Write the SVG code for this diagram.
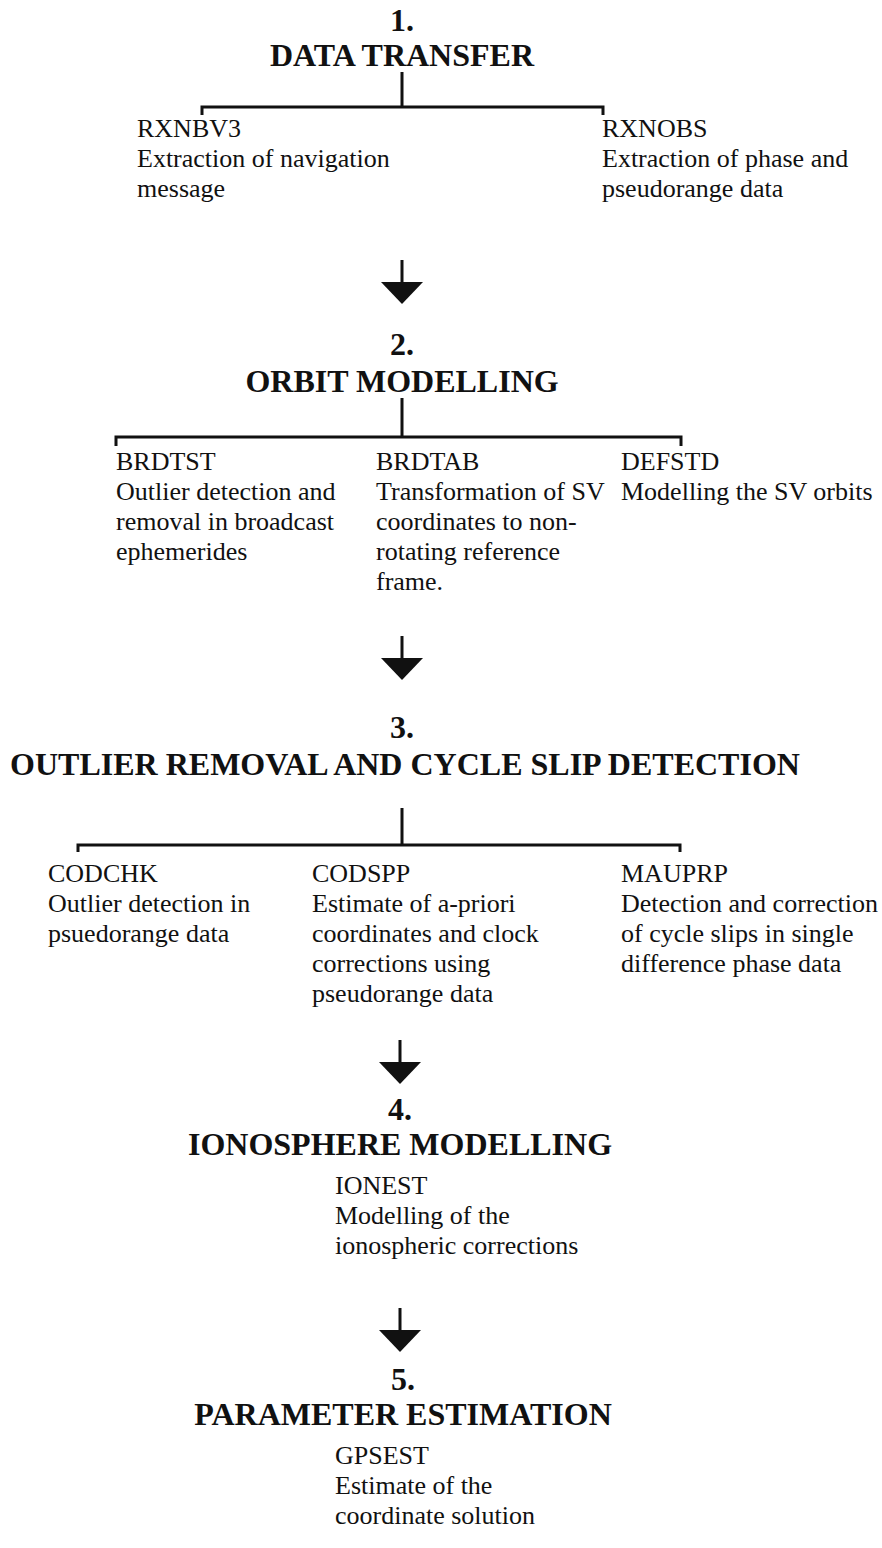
<svg xmlns="http://www.w3.org/2000/svg" xmlns:xlink="http://www.w3.org/1999/xlink" width="882" height="1548" viewBox="0 0 882 1548">
<style>
.t{font-family:"Liberation Serif","Times New Roman",serif;font-weight:bold;font-size:32px;fill:#111;text-anchor:middle}
.b{font-family:"Liberation Serif","Times New Roman",serif;font-size:26px;fill:#111}
.ln{stroke:#111;stroke-width:3;fill:none}
.ar{fill:#111}
</style>
<defs>
<g id="arrow"><line x1="0" y1="0" x2="0" y2="24" class="ln"/><polygon points="-21,22 21,22 0,44" class="ar"/></g>
</defs>
<rect width="882" height="1548" fill="#fff"/>
<g id="connectors">
<path class="ln" d="M402 72V107M202 115V107H603V115"/>
<use xlink:href="#arrow" x="402" y="260"/>
<path class="ln" d="M402 398V437M116 446V437H681V446"/>
<use xlink:href="#arrow" x="402" y="636"/>
<path class="ln" d="M402 808V845M78 852V845H680V852"/>
<use xlink:href="#arrow" x="400" y="1040"/>
<use xlink:href="#arrow" x="400" y="1308"/>
</g>
<g id="step1">
<text class="t" x="402" y="31">1.</text>
<text class="t" x="402" y="66">DATA TRANSFER</text>
</g>
<g id="rxnbv3"><text class="b" x="137" y="137">RXNBV3</text><text class="b" x="137" y="167">Extraction of navigation</text><text class="b" x="137" y="197">message</text></g>
<g id="rxnobs"><text class="b" x="602" y="137">RXNOBS</text><text class="b" x="602" y="167">Extraction of phase and</text><text class="b" x="602" y="197">pseudorange data</text></g>
<g id="step2">
<text class="t" x="402" y="355">2.</text>
<text class="t" x="402" y="392">ORBIT MODELLING</text>
</g>
<g id="brdtst"><text class="b" x="116" y="470">BRDTST</text><text class="b" x="116" y="500">Outlier detection and</text><text class="b" x="116" y="530">removal in broadcast</text><text class="b" x="116" y="560">ephemerides</text></g>
<g id="brdtab"><text class="b" x="376" y="470">BRDTAB</text><text class="b" x="376" y="500">Transformation of SV</text><text class="b" x="376" y="530">coordinates to non-</text><text class="b" x="376" y="560">rotating reference</text><text class="b" x="376" y="590">frame.</text></g>
<g id="defstd"><text class="b" x="621" y="470">DEFSTD</text><text class="b" x="621" y="500">Modelling the SV orbits</text></g>
<g id="step3">
<text class="t" x="402" y="738">3.</text>
<text class="t" x="405" y="775">OUTLIER REMOVAL AND CYCLE SLIP DETECTION</text>
</g>
<g id="codchk"><text class="b" x="48" y="882">CODCHK</text><text class="b" x="48" y="912">Outlier detection in</text><text class="b" x="48" y="942">psuedorange data</text></g>
<g id="codspp"><text class="b" x="312" y="882">CODSPP</text><text class="b" x="312" y="912">Estimate of a-priori</text><text class="b" x="312" y="942">coordinates and clock</text><text class="b" x="312" y="972">corrections using</text><text class="b" x="312" y="1002">pseudorange data</text></g>
<g id="mauprp"><text class="b" x="621" y="882">MAUPRP</text><text class="b" x="621" y="912">Detection and correction</text><text class="b" x="621" y="942">of cycle slips in single</text><text class="b" x="621" y="972">difference phase data</text></g>
<g id="step4">
<text class="t" x="400" y="1120">4.</text>
<text class="t" x="400" y="1155">IONOSPHERE MODELLING</text>
</g>
<g id="ionest"><text class="b" x="335" y="1194">IONEST</text><text class="b" x="335" y="1224">Modelling of the</text><text class="b" x="335" y="1254">ionospheric corrections</text></g>
<g id="step5">
<text class="t" x="403" y="1390">5.</text>
<text class="t" x="403" y="1425">PARAMETER ESTIMATION</text>
</g>
<g id="gpsest"><text class="b" x="335" y="1464">GPSEST</text><text class="b" x="335" y="1494">Estimate of the</text><text class="b" x="335" y="1524">coordinate solution</text></g>
</svg>
